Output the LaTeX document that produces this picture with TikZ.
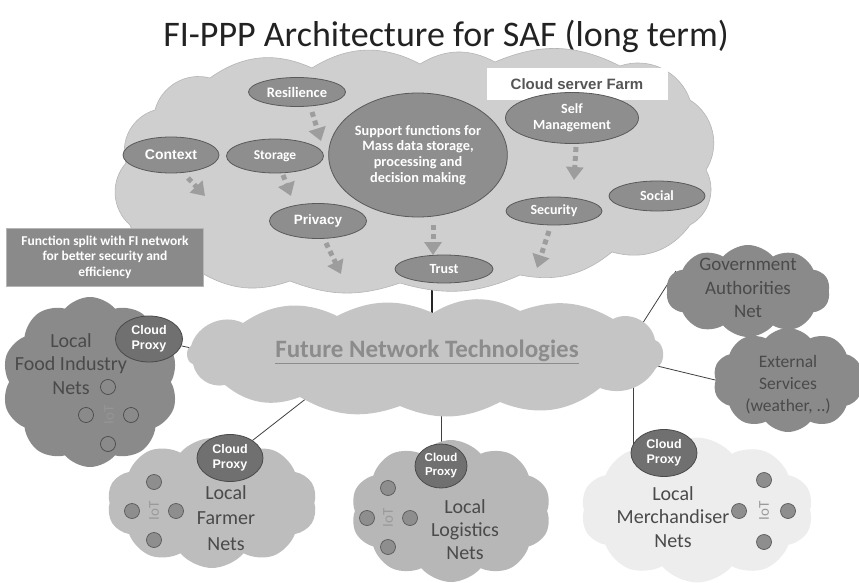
\documentclass[tikz,border=0pt]{standalone}
\usepackage{fontspec}
\setmainfont{Carlito}
\newfontfamily\arialf{Liberation Sans}
\usetikzlibrary{shapes.geometric,shapes.symbols,arrows.meta,backgrounds}

\definecolor{titlecol}{HTML}{222222}
\definecolor{topfill}{HTML}{CFCFCF}
\definecolor{topedge}{HTML}{B5B5B5}
\definecolor{netfill}{HTML}{C5C5C5}
\definecolor{nettext}{HTML}{8C8C8C}
\definecolor{ellfill}{HTML}{8E8E8E}
\definecolor{elledge}{HTML}{5A5A5A}
\definecolor{proxyfill}{HTML}{707070}
\definecolor{proxyedge}{HTML}{4A4A4A}
\definecolor{darkcloud}{HTML}{8A8A8A}
\definecolor{midcloud}{HTML}{BDBDBD}
\definecolor{lightcloud}{HTML}{EDEDED}
\definecolor{cloudtext}{HTML}{4A4A4A}
\definecolor{arrowgray}{HTML}{9D9D9D}
\definecolor{linkgray}{HTML}{404040}
\definecolor{iotgray}{HTML}{9A9A9A}
\definecolor{farmtext}{HTML}{555555}

\begin{document}
\begin{tikzpicture}[x=1pt,y=-1pt,
  puffy/.style={cloud, cloud ignores aspect, cloud puff arc=100, inner sep=0pt},
  funcell/.style={ellipse, fill=ellfill, draw=elledge, line width=0.8pt, inner sep=0pt,
    text=white, align=center, font=\bfseries\fontsize{14}{16}\selectfont},
  proxy/.style={ellipse, fill=proxyfill, draw=proxyedge, line width=0.8pt, inner sep=0pt,
    minimum width=66pt, minimum height=47pt, text=white, align=center,
    font=\arialf\bfseries\fontsize{12.5}{15}\selectfont},
  dotarrow/.style={draw=arrowgray, line width=5pt, dash pattern=on 5pt off 4pt,
    -{Triangle[width=17pt,length=13pt]}},
  link/.style={draw=linkgray, line width=0.8pt},
  iotdot/.style={circle, minimum size=15pt, inner sep=0pt, fill=ellfill, draw=elledge, line width=0.7pt},
  iothollow/.style={circle, minimum size=15pt, inner sep=0pt, draw=cloudtext, line width=0.7pt},
  iotlabel/.style={rotate=90, text=iotgray, font=\fontsize{15}{15}\selectfont},
  nettitle/.style={text=cloudtext, align=center, font=\fontsize{20}{24}\selectfont}
]
\useasboundingbox (0,0) rectangle (859,583);

% title
\node[text=titlecol, font=\fontsize{36}{42}\selectfont] (title) at (446,36)
  {FI-PPP Architecture for SAF (long term)};

% cloud server farm outline, puff by puff
\coordinate (n1) at (130,225);
\coordinate (n2) at (126,163);
\coordinate (n3) at (155,110);
\coordinate (n4) at (210,78);
\coordinate (n5) at (312,68);
\coordinate (n6) at (420,64);
\coordinate (n7) at (495,62);
\coordinate (n8) at (620,66);
\coordinate (n9) at (690,100);
\coordinate (n10) at (706,170);
\coordinate (n11) at (690,225);
\coordinate (n12) at (612,252);
\coordinate (n13) at (520,275);
\coordinate (n14) at (400,283);
\coordinate (n15) at (290,281);
\coordinate (n16) at (200,272);
\fill[topfill, draw=topedge, line width=0.6pt]
  (n1) to[bend left=45] (n2) to[bend left=45] (n3) to[bend left=45] (n4)
  to[bend left=30] (n5) to[bend left=30] (n6) to[bend left=30] (n7)
  to[bend left=25] (n8) to[bend left=45] (n9) to[bend left=45] (n10)
  to[bend left=45] (n11) to[bend left=35] (n12) to[bend left=25] (n13)
  to[bend left=20] (n14) to[bend left=20] (n15) to[bend left=25] (n16)
  to[bend left=35] cycle;

\node[fill=white, minimum width=181pt, minimum height=32pt, inner sep=0pt,
  text=farmtext, font=\arialf\bfseries\fontsize{15}{18}\selectfont] (farmlabel) at (577,84)
  {Cloud server Farm};

\node[funcell, minimum width=97pt, minimum height=29pt, font=\bfseries\fontsize{14.5}{16}\selectfont] (resil) at (297,92) {Resilience};
\node[funcell, minimum width=96pt, minimum height=36pt, font=\arialf\bfseries\fontsize{14}{16}\selectfont] (context) at (171,155) {Context};
\node[funcell, minimum width=97pt, minimum height=34pt, font=\bfseries\fontsize{13.5}{16}\selectfont] (storage) at (275,156) {Storage};
\node[funcell, minimum width=97pt, minimum height=35pt, font=\arialf\bfseries\fontsize{13.5}{16}\selectfont] (privacy) at (318,221) {Privacy};
\node[funcell, minimum width=165pt, minimum height=124pt, font=\bfseries\fontsize{14.3}{15.8}\selectfont] (support) at (418,155)
  {Support functions for\\Mass data storage,\\processing and\\decision making};
\node[funcell, minimum width=98pt, minimum height=28pt] (trust) at (444,269) {Trust};
\node[funcell, minimum width=133pt, minimum height=51pt] (selfm) at (572,118) {Self\\Management};
\node[funcell, minimum width=96pt, minimum height=28pt] (security) at (554,211) {Security};
\node[funcell, minimum width=96pt, minimum height=30pt] (social) at (657,196) {Social};

% flow arrows inside the farm
\coordinate (a1s) at (312,112); \coordinate (a1e) at (321,141);
\coordinate (a2s) at (188,178); \coordinate (a2e) at (205,196);
\coordinate (a3s) at (283,175); \coordinate (a3e) at (291,196);
\coordinate (a4s) at (326,243); \coordinate (a4e) at (341,274);
\coordinate (a5s) at (433,225); \coordinate (a5e) at (433,255);
\coordinate (a6s) at (576,147); \coordinate (a6e) at (574,180);
\coordinate (a7s) at (549,231); \coordinate (a7e) at (537,268);
\foreach \n in {1,...,7} \draw[dotarrow] (a\n s) -- (a\n e);

% note box
\node[fill=darkcloud, draw=topedge, line width=0.8pt, minimum width=197pt, minimum height=58pt,
  inner sep=0pt, text=white, align=center, font=\bfseries\fontsize{13.5}{15.5}\selectfont]
  (note) at (105,257) {Function split with FI network\\for better security and\\efficiency};

% future network outline
\coordinate (m1) at (191,346);
\coordinate (m2) at (243,323);
\coordinate (m3) at (337,316);
\coordinate (m4) at (433,313);
\coordinate (m5) at (520,311);
\coordinate (m6) at (613,319);
\coordinate (m7) at (655,340);
\coordinate (m8) at (656,368);
\coordinate (m9) at (600,388);
\coordinate (m10) at (500,402);
\coordinate (m11) at (400,406);
\coordinate (m12) at (300,397);
\coordinate (m13) at (225,385);
\coordinate (m14) at (193,364);
\fill[netfill]
  (m1) to[bend left=50] (m2) to[bend left=30] (m3) to[bend left=25] (m4)
  to[bend left=30] (m5) to[bend left=25] (m6) to[bend left=55] (m7)
  to[bend left=70] (m8) to[bend left=40] (m9) to[bend left=30] (m10)
  to[bend left=25] (m11) to[bend left=25] (m12) to[bend left=30] (m13)
  to[bend left=45] (m14) to[bend left=70] cycle;
\node[text=nettext, font=\bfseries\fontsize{25}{28}\selectfont] (nettitle) at (427,352)
  {\underline{Future Network Technologies}};

% external networks
\node[puffy, cloud puffs=10, fill=darkcloud, minimum width=164pt, minimum height=92pt] (govt) at (748,291) {};
\node[nettitle, font=\fontsize{19}{23.5}\selectfont] (govtlabel) at (748,288) {Government\\Authorities\\Net};
\node[puffy, cloud puffs=10, fill=darkcloud, minimum width=150pt, minimum height=104pt] (ext) at (788,380) {};
\node[nettitle, font=\fontsize{17.5}{22}\selectfont] (extlabel) at (788,385) {External\\Services\\(weather, ..)};

% local food industry
\node[puffy, cloud puffs=10, fill=darkcloud, minimum width=176pt, minimum height=170pt] (food) at (90,382) {};
\node[nettitle, font=\fontsize{20}{23.5}\selectfont] (foodlabel) at (71,364) {Local\\Food Industry\\Nets};
\node[iotlabel, text=iotgray!70!darkcloud] (foodiot) at (109,415) {IoT};
\node[iothollow] (fd1) at (108,387) {};
\node[iothollow] (fd2) at (86,415) {};
\node[iothollow] (fd3) at (131,415) {};
\node[iothollow] (fd4) at (108,444) {};
\node[proxy, minimum width=67pt, minimum height=46pt] (foodproxy) at (149,339) {Cloud\\Proxy};

% local farmer
\node[puffy, cloud puffs=10, fill=midcloud, minimum width=210pt, minimum height=130pt] (farmer) at (212,503) {};
\node[nettitle, font=\fontsize{20}{25.5}\selectfont] (farmerlabel) at (226,518) {Local\\Farmer\\Nets};
\node[iotlabel] (farmeriot) at (154,511) {IoT};
\node[iotdot] (fm1) at (154,482) {};
\node[iotdot] (fm2) at (132,511) {};
\node[iotdot] (fm3) at (176,511) {};
\node[iotdot] (fm4) at (154,540) {};
\node[proxy] (farmerproxy) at (230,458) {Cloud\\Proxy};

% local logistics
\node[puffy, cloud puffs=10, fill=midcloud!97!black, minimum width=200pt, minimum height=142pt] (logi) at (451,511) {};
\node[nettitle, font=\fontsize{20}{23}\selectfont] (logilabel) at (465,530) {Local\\Logistics\\Nets};
\node[iotlabel] (logiiot) at (388,518) {IoT};
\node[iotdot] (lg1) at (388,488) {};
\node[iotdot] (lg2) at (367,518) {};
\node[iotdot] (lg3) at (410,518) {};
\node[iotdot] (lg4) at (388,547) {};
\node[proxy, minimum width=52pt, minimum height=44pt, font=\arialf\bfseries\fontsize{11.5}{14}\selectfont] (logiproxy) at (441,466) {Cloud\\Proxy};

% local merchandiser
\node[puffy, cloud puffs=10, fill=lightcloud, minimum width=232pt, minimum height=145pt] (merch) at (697,510) {};
\node[nettitle, font=\fontsize{20}{23.5}\selectfont] (merchlabel) at (673,517) {Local\\Merchandiser\\Nets};
\node[iotlabel] (merchiot) at (764,511) {IoT};
\node[iotdot] (mc1) at (764,480) {};
\node[iotdot] (mc2) at (739,511) {};
\node[iotdot] (mc3) at (788,511) {};
\node[iotdot] (mc4) at (764,542) {};
\node[proxy] (merchproxy) at (664,453) {Cloud\\Proxy};

% connectors, laid under the clouds
\coordinate (farmdrop) at (432,280);
\coordinate (netdrop) at (432,340);
\coordinate (netfood) at (210,352);
\coordinate (netfarmer) at (312,394);
\coordinate (netlogi) at (441,380);
\coordinate (netmerch) at (633,360);
\coordinate (netgovt) at (630,343);
\coordinate (govtin) at (676,271);
\coordinate (netext) at (620,357);
\coordinate (extin) at (740,386);
\begin{pgfonlayer}{background}
  \draw[draw=black!85, line width=2.5pt] (farmdrop) -- (netdrop);
  \draw[link] (foodproxy) -- (netfood);
  \draw[link] (farmerproxy) -- (netfarmer);
  \draw[link] (logiproxy.center) -- (netlogi);
  \draw[link] (netmerch) -- (netmerch |- merchproxy.center);
  \draw[link] (netgovt) -- (govtin);
  \draw[link] (netext) -- (extin);
\end{pgfonlayer}
\end{tikzpicture}
\end{document}
